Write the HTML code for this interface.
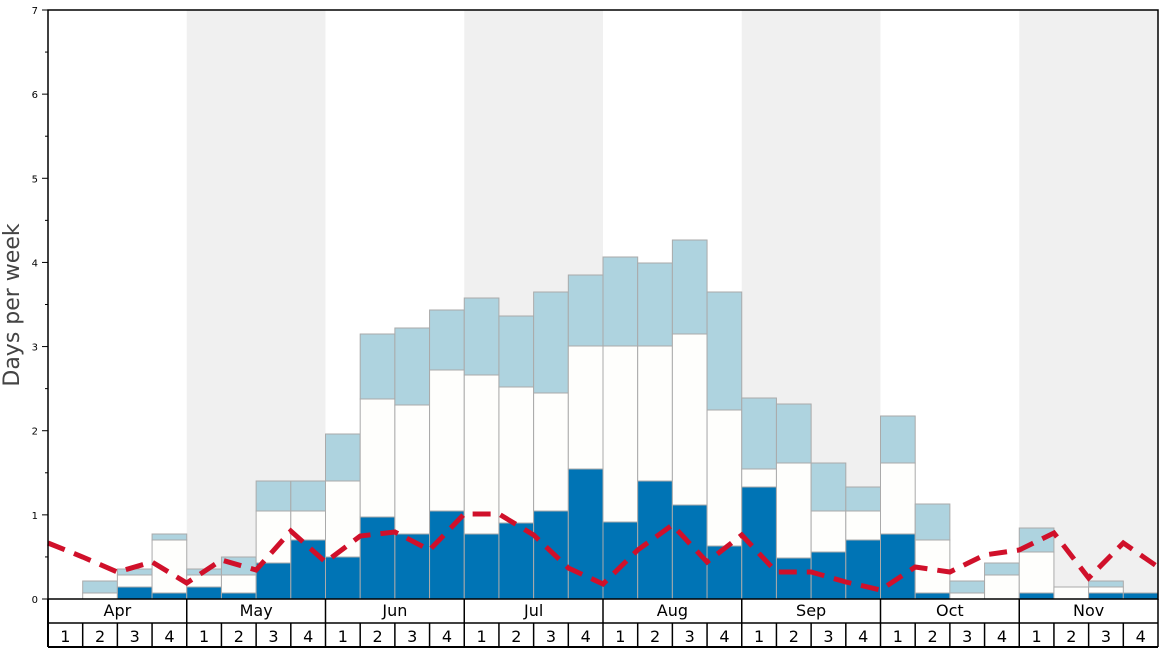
<!DOCTYPE html>
<html><head><meta charset="utf-8"><style>
html,body{margin:0;padding:0;background:#fff;width:1168px;height:648px;overflow:hidden}
text{font-family:"DejaVu Sans","Liberation Sans",sans-serif}
</style></head><body>
<svg id="s" width="1168" height="648" xmlns="http://www.w3.org/2000/svg"></svg>
<script>
const s=document.getElementById('s');let h='';
const X0=48,X1=1158,Y0=599,W=(X1-X0)/32,U=(599-10)/7;
const months=['Apr','May','Jun','Jul','Aug','Sep','Oct','Nov'];
for(let m=1;m<8;m+=2){h+=`<rect x="${X0+m*4*W}" y="10" width="${4*W}" height="589" fill="#f0f0f0"/>`;}
// [darkTop, whiteTop, lightTop] in px (599 = none)
const b=[[599,599,599],[599,593,581],[587,575,569],[593,540,534],
[587,575,569],[593,575,557],[563,511,481],[540,511,481],
[557,481,434],[517,399,334],[534,405,328],[511,370,310],
[534,375,298],[523,387,316],[511,393,292],[469,346,275],
[522,346,257],[481,346,263],[505,334,240],[546,410,292],
[487,469,398],[558,463,404],[552,511,463],[540,511,487],
[534,463,416],[593,540,504],[599,593,581],[599,575,563],
[593,552,528],[599,587,587],[593,587,581],[593,593,593]];
b.forEach((v,i)=>{const x=X0+i*W;
 if(v[2]<v[1])h+=`<rect x="${x}" y="${v[2]}" width="${W}" height="${v[1]-v[2]}" fill="#aed3df" stroke="#aaa" stroke-width="1"/>`;
 if(v[1]<v[0])h+=`<rect x="${x}" y="${v[1]}" width="${W}" height="${v[0]-v[1]}" fill="#fefefc" stroke="#aaa" stroke-width="1"/>`;
 if(v[0]<599)h+=`<rect x="${x}" y="${v[0]}" width="${W}" height="${599-v[0]}" fill="#0074b5" stroke="#aaa" stroke-width="1"/>`;
});
const ly=[543,557,572,562,583,560,570,531,562,536,532,550,514,514,535,568,584,550,525,562,535,572,572,582,590,567,572,555,550,533,578,543,567];
h+=`<polyline points="${ly.map((y,i)=>(X0+i*W)+','+y).join(' ')}" fill="none" stroke="#d0102a" stroke-width="5" stroke-dasharray="18,10"/>`;
h+=`<rect x="${X0}" y="10" width="${X1-X0}" height="589" fill="none" stroke="#000" stroke-width="1.5"/>`;
for(let k=0;k<=7;k++){const y=Y0-k*U;h+=`<line x1="42" x2="48" y1="${y}" y2="${y}" stroke="#000"/><text x="38" y="${y+4}" font-size="10" text-anchor="end">${k}</text>`;
 if(k<7)h+=`<line x1="45" x2="48" y1="${y-U/2}" y2="${y-U/2}" stroke="#000"/>`;}
h+=`<text transform="translate(19,305) rotate(-90)" font-size="22" fill="#444" text-anchor="middle">Days per week</text>`;
h+=`<line x1="48" x2="48" y1="599" y2="647" stroke="#000" stroke-width="2"/><line x1="48" x2="${X1}" y1="623" y2="623" stroke="#000" stroke-width="1.5"/><line x1="48" x2="${X1}" y1="647" y2="647" stroke="#000" stroke-width="2"/>`;
for(let m=0;m<8;m++){const x=X0+m*4*W;
 h+=`<line x1="${x+4*W}" x2="${x+4*W}" y1="599" y2="647" stroke="#000" stroke-width="1.5"/>`;
 h+=`<text x="${x+2*W}" y="616" font-size="16" text-anchor="middle">${months[m]}</text>`;
 for(let w=0;w<4;w++){const xx=X0+(m*4+w)*W;if(w>0)h+=`<line x1="${xx}" x2="${xx}" y1="623" y2="647" stroke="#000" stroke-width="1.5"/>`;
 h+=`<text x="${xx+W/2}" y="642" font-size="16" text-anchor="middle">${w+1}</text>`;}}
s.innerHTML=h;
</script>
</body></html>
